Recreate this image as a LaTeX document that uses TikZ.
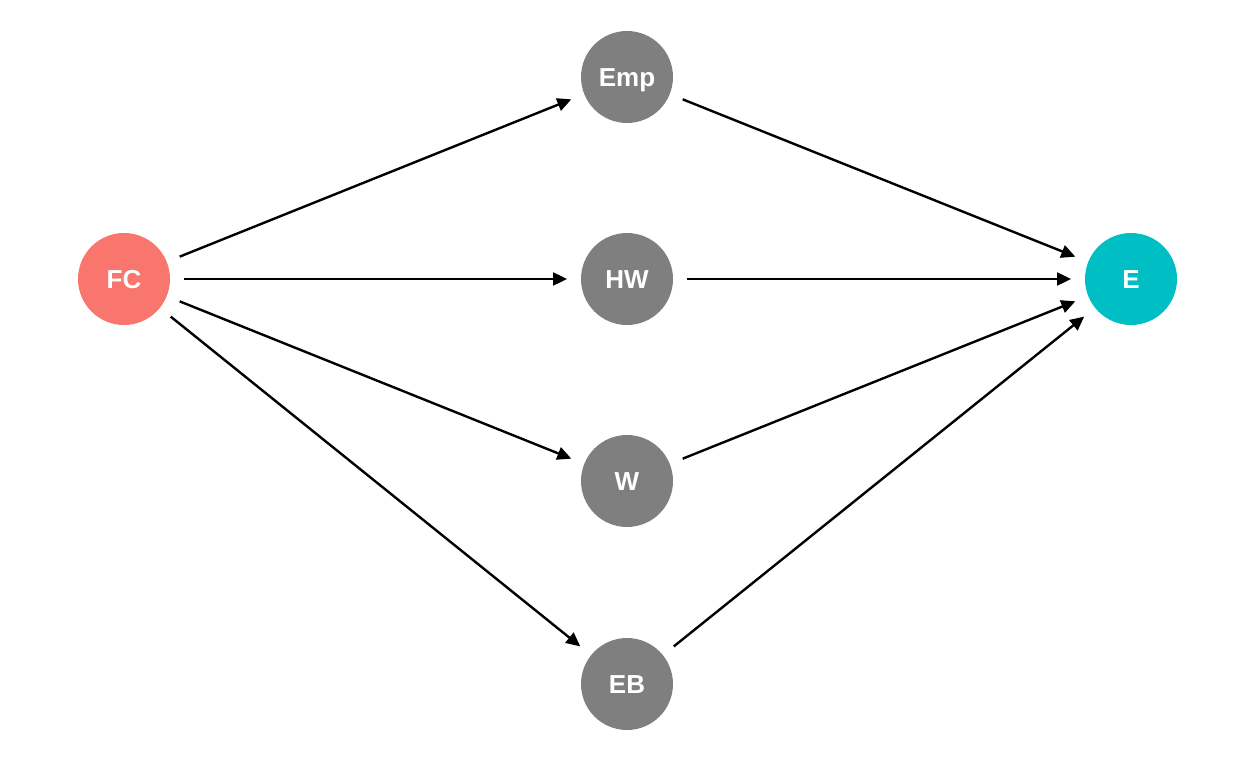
\documentclass[tikz,border=0pt]{standalone}
\usepackage{fontspec}
\setmainfont{Liberation Sans}
\usetikzlibrary{arrows.meta}
\definecolor{fcred}{HTML}{F8766D}
\definecolor{ecyan}{HTML}{00BFC4}
\definecolor{midgray}{HTML}{7F7F7F}
\begin{document}
\begin{tikzpicture}[x=1pt,y=-1pt,
  dagnode/.style={circle,minimum size=92pt,inner sep=0pt,outer sep=14pt,text=white,text height=19pt,text depth=0pt,font=\fontsize{26}{26}\selectfont\bfseries},
  edge/.style={line width=2.4pt,-{Triangle[length=14pt,width=13pt]}}]
\useasboundingbox (0,0) rectangle (1248,768);
\node[dagnode,fill=fcred] (FC) at (124,279) {FC};
\node[dagnode,fill=midgray] (Emp) at (627,77) {Emp};
\node[dagnode,fill=midgray] (HW) at (627,279) {HW};
\node[dagnode,fill=midgray] (W) at (627,481) {W};
\node[dagnode,fill=midgray] (EB) at (627,684) {EB};
\node[dagnode,fill=ecyan] (E) at (1131,279) {E};
\draw[edge] (FC) -- (Emp);
\draw[edge] (FC) -- (HW);
\draw[edge] (FC) -- (W);
\draw[edge] (FC) -- (EB);
\draw[edge] (Emp) -- (E);
\draw[edge] (HW) -- (E);
\draw[edge] (W) -- (E);
\draw[edge] (EB) -- (E);
\end{tikzpicture}
\end{document}
